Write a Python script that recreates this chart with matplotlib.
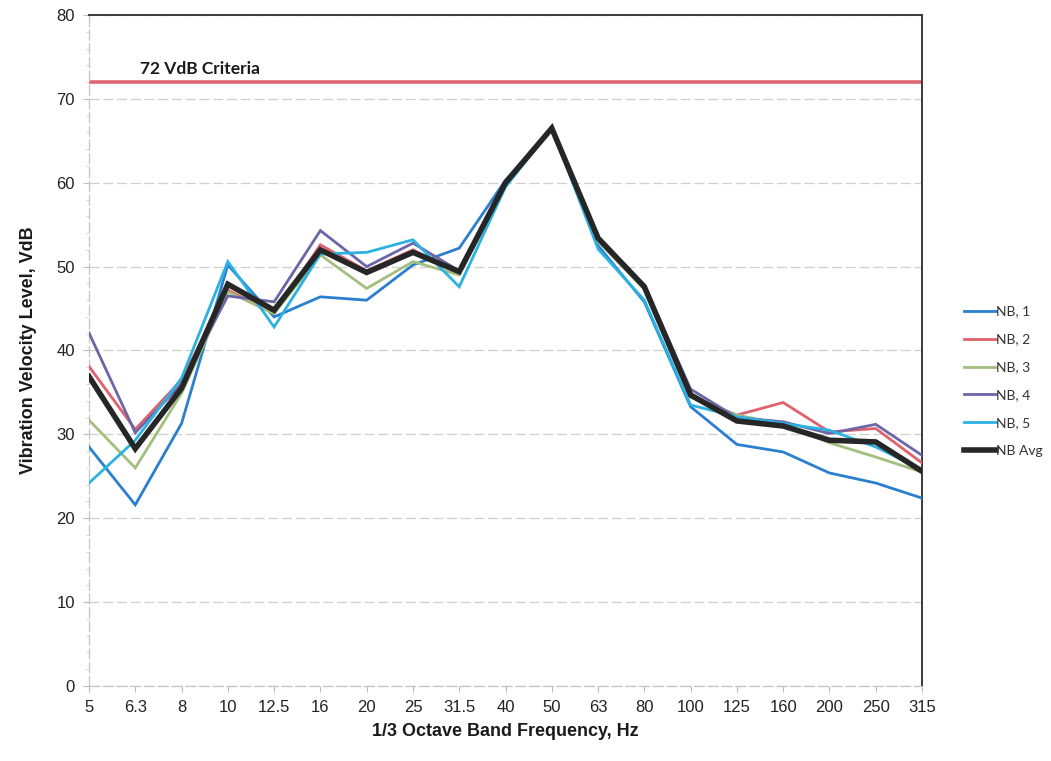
import matplotlib
matplotlib.use("Agg")
import matplotlib.pyplot as plt
from matplotlib.ticker import MultipleLocator

# 1/3 octave band centre frequencies (Hz)
bands = ['5', '6.3', '8', '10', '12.5', '16', '20', '25', '31.5', '40',
         '50', '63', '80', '100', '125', '160', '200', '250', '315']

# Vibration velocity levels (VdB) per measurement location
nb1 = [28.5, 21.6, 31.3, 50.2, 44.0, 46.4, 46.0, 50.2, 52.2, 60.3,
       66.5, 52.5, 45.8, 33.3, 28.8, 27.9, 25.4, 24.2, 22.4]
nb2 = [38.1, 30.6, 36.5, 47.2, 44.4, 52.6, 49.5, 52.0, 49.2, 59.8,
       66.5, 53.2, 47.5, 34.5, 32.3, 33.8, 30.3, 30.7, 26.6]
nb3 = [31.7, 26.0, 34.9, 47.0, 44.4, 51.4, 47.4, 50.6, 49.0, 59.6,
       66.5, 53.0, 47.3, 34.4, 32.3, 31.2, 29.0, 27.3, 25.5]
nb4 = [42.1, 30.2, 36.0, 46.5, 45.8, 54.3, 50.0, 52.8, 49.5, 59.8,
       66.5, 53.5, 47.8, 35.4, 32.0, 31.5, 30.1, 31.2, 27.5]
nb5 = [24.2, 29.3, 36.7, 50.6, 42.8, 51.5, 51.7, 53.2, 47.6, 59.5,
       66.5, 52.1, 46.0, 33.5, 32.1, 31.3, 30.5, 28.5, 25.8]
nb_avg = [36.9, 28.3, 35.5, 47.9, 44.8, 52.0, 49.3, 51.7, 49.4, 60.0,
          66.5, 53.4, 47.6, 34.7, 31.6, 31.0, 29.3, 29.1, 25.6]

criteria = 72

series = [
    ('NB, 1', nb1, '#2b7fcf', 2.0),
    ('NB, 2', nb2, '#e0616c', 2.0),
    ('NB, 3', nb3, '#a2bf7e', 2.0),
    ('NB, 4', nb4, '#6b66a8', 2.0),
    ('NB, 5', nb5, '#2bb2e2', 2.0),
    ('NB Avg', nb_avg, '#262626', 4.0),
]

fig = plt.figure(figsize=(10.51, 7.61), dpi=100)
ax = fig.add_axes([89 / 1051, 1 - 686 / 761, (922 - 89) / 1051, (686 - 15) / 761])

x = list(range(len(bands)))
for name, vals, color, lw in series:
    ax.plot(x, vals, color=color, lw=lw, label=name,
            solid_joinstyle='miter', zorder=4 if name == 'NB Avg' else 3)

ax.axhline(criteria, color='#e06672', lw=2.6, zorder=2)
ax.text(1.1, criteria + 0.6, '72 VdB Criteria', fontsize=12.5, fontweight='bold',
        family=['Lato', 'DejaVu Sans'], color='#1a1a1a', va='bottom', ha='left')

ax.set_xlim(0, len(bands) - 1)
ax.set_ylim(0, 80)
ax.set_xticks(x)
ax.set_xticklabels(bands)
ax.yaxis.set_major_locator(MultipleLocator(10))
ax.yaxis.set_minor_locator(MultipleLocator(2))

narrow = ['Liberation Sans Narrow', 'Liberation Sans', 'DejaVu Sans']
for lab in ax.get_xticklabels() + ax.get_yticklabels():
    lab.set_family(narrow)
    lab.set_fontsize(12)
    lab.set_color('#222222')

ax.tick_params(axis='both', which='major', length=4, color='#bbbbbb', pad=6)
ax.tick_params(axis='y', which='minor', length=2.5, color='#cccccc')

ax.grid(axis='y', color='#cfcfcf', lw=0.9, ls=(0, (8, 3)))
ax.set_axisbelow(True)

for side in ('top', 'right'):
    ax.spines[side].set_color('#3a3a3a')
    ax.spines[side].set_linewidth(1.4)
for side in ('left', 'bottom'):
    ax.spines[side].set_color('#c4c4c4')
    ax.spines[side].set_linewidth(0.9)
    ax.spines[side].set_linestyle((0, (8, 3)))

ax.set_xlabel('1/3 Octave Band Frequency, Hz', fontsize=13, fontweight='bold',
              family=narrow, color='#1a1a1a', labelpad=6)
ax.set_ylabel('Vibration Velocity Level, VdB', fontsize=13, fontweight='bold',
              family=narrow, color='#1a1a1a', labelpad=14)

leg = ax.legend(loc='center left', bbox_to_anchor=(1.035, 0.454), frameon=False,
                handlelength=2.3, handletextpad=0.05, labelspacing=1.15,
                prop={'family': ['Lato', 'DejaVu Sans'], 'size': 10})
for t in leg.get_texts():
    t.set_color('#333333')

fig.savefig('out.png', dpi=100, facecolor='white')
